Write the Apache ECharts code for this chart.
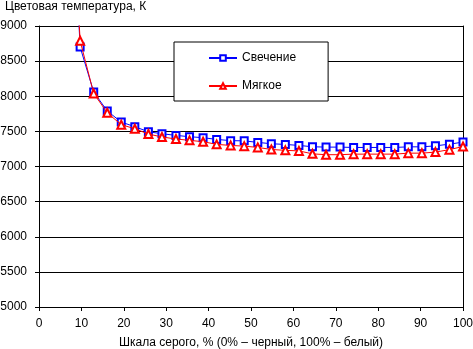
<!DOCTYPE html>
<html>
<head>
<meta charset="utf-8">
<script src="https://cdn.jsdelivr.net/npm/echarts@6/dist/echarts.min.js"></script>
<style>html,body{margin:0;padding:0;background:#fff}#c{width:473px;height:349px}</style>
</head>
<body>
<div id="c"></div>
<script>
var xValues = [6.5, 9.7, 12.9, 16.1, 19.4, 22.6, 25.8, 29.0, 32.3, 35.5, 38.7, 41.9, 45.2, 48.4, 51.6, 54.8, 58.1, 61.3, 64.5, 67.7, 71.0, 74.2, 77.4, 80.6, 83.9, 87.1, 90.3, 93.5, 96.8, 100];
var glowValues = [12500, 8700, 8060, 7790, 7633, 7566, 7495, 7466, 7443, 7424, 7410, 7386, 7368, 7365, 7343, 7324, 7314, 7300, 7281, 7276, 7276, 7271, 7271, 7271, 7271, 7280, 7280, 7294, 7318, 7347];
var softValues = [12300, 8790, 8040, 7765, 7595, 7538, 7462, 7420, 7392, 7372, 7353, 7315, 7300, 7290, 7272, 7242, 7230, 7222, 7180, 7168, 7168, 7176, 7176, 7176, 7176, 7190, 7190, 7205, 7240, 7285];
var seriesNames = ['Свечение', 'Мягкое'];
var yTicks = [5000, 9000, 500];
var xTicks = [0, 100, 10];
var titleText = 'Цветовая температура, К';
var xAxisName = 'Шкала серого, % (0% – черный, 100% – белый)';

function pairs(xs, ys) { return xs.map(function (x, i) { return [x, ys[i]]; }); }

var FONT = '"Liberation Sans", Arial, sans-serif';
var chart = echarts.init(document.getElementById('c'), null, { renderer: 'canvas' });
chart.setOption({
  backgroundColor: '#fff',
  animation: false,
  textStyle: { fontFamily: FONT },
  title: {
    text: titleText, left: 5, top: 1, padding: 0,
    textStyle: { fontSize: 12, fontWeight: 'normal', color: '#000', fontFamily: FONT }
  },
  grid: { left: 39, right: 10, top: 26, bottom: 42, containLabel: false, outerBoundsMode: 'none' },
  legend: {
    left: 174, top: 42, orient: 'vertical',
    padding: [9, 32, 8, 34], itemGap: 14, itemWidth: 28, itemHeight: 7,
    borderColor: '#000', borderWidth: 1, backgroundColor: '#fff',
    textStyle: { fontSize: 12, color: '#000', lineHeight: 14, fontFamily: FONT },
    data: seriesNames
  },
  xAxis: {
    type: 'value', min: xTicks[0], max: xTicks[1], interval: xTicks[2],
    name: xAxisName, nameLocation: 'middle', nameGap: 30,
    nameTextStyle: { fontSize: 12, color: '#000', fontFamily: FONT },
    axisLine: { onZero: false, lineStyle: { color: '#000', width: 1 } },
    axisTick: { show: true, inside: false, length: 4, lineStyle: { color: '#000' } },
    axisLabel: { fontSize: 12, color: '#000', margin: 11, fontFamily: FONT },
    splitLine: { show: false }
  },
  yAxis: [{
    type: 'value', min: yTicks[0], max: yTicks[1], interval: yTicks[2],
    axisLine: { show: true, lineStyle: { color: '#000', width: 1 } },
    axisTick: { show: true, inside: false, length: 4, lineStyle: { color: '#000' } },
    axisLabel: { fontSize: 12, color: '#000', margin: 12, fontFamily: FONT,
      formatter: function (v) { return String(v); } },
    splitLine: { show: true, lineStyle: { color: '#000', width: 1 } }
  }, {
    type: 'value', position: 'right', min: yTicks[0], max: yTicks[1], interval: yTicks[2],
    axisLine: { show: true, lineStyle: { color: '#000', width: 1 } },
    axisTick: { show: false }, axisLabel: { show: false }, splitLine: { show: false }
  }],
  series: [{
    name: seriesNames[0], type: 'line', data: pairs(xValues, glowValues),
    clip: true, symbol: 'emptyRect', symbolSize: 7, z: 3,
    lineStyle: { color: '#0000ff', width: 1 },
    itemStyle: { color: '#0000ff', borderColor: '#0000ff', borderWidth: 1.2 }
  }, {
    name: seriesNames[1], type: 'line', data: pairs(xValues, softValues),
    clip: true, symbol: 'emptyTriangle', symbolSize: 8, z: 4,
    lineStyle: { color: '#ff0000', width: 1 },
    itemStyle: { color: '#ff0000', borderColor: '#ff0000', borderWidth: 1.2 }
  }]
});
</script>
</body>
</html>
